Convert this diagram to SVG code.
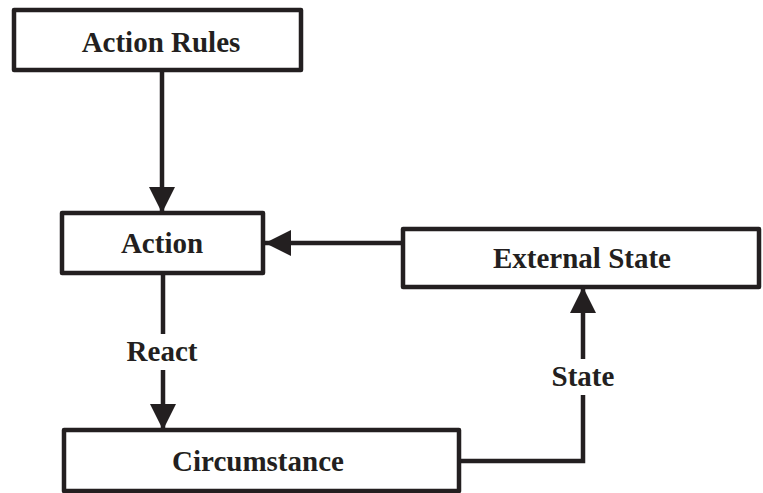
<svg xmlns="http://www.w3.org/2000/svg" width="763" height="493" viewBox="0 0 763 493">
  <style>
    .box { fill: #ffffff; stroke: #231f20; stroke-width: 4.5; stroke-linejoin: round; }
    .lbl { font-family: "Liberation Serif", "Times New Roman", serif; font-weight: bold; font-size: 29px; fill: #231f20; text-anchor: middle; }
    .wire { fill: none; stroke: #231f20; stroke-width: 4.5; }
    .bg { fill: #ffffff; }
  </style>
  <defs>
    <marker id="arrow" viewBox="0 0 26 26" refX="26" refY="13" markerWidth="26" markerHeight="26" markerUnits="userSpaceOnUse" orient="auto">
      <path d="M0,0 L26,13 L0,26 Z" fill="#231f20"/>
    </marker>
  </defs>
  <rect width="763" height="493" fill="#ffffff"/>

  <g id="connectors">
    <!-- Action Rules -> Action -->
    <line class="wire" x1="162" y1="70" x2="162" y2="213" marker-end="url(#arrow)"/>
    <!-- External State -> Action -->
    <line class="wire" x1="403" y1="243" x2="265" y2="243" marker-end="url(#arrow)"/>
    <!-- Action -> Circumstance (React) -->
    <line class="wire" x1="163" y1="273" x2="163" y2="430" marker-end="url(#arrow)"/>
    <!-- Circumstance -> External State (State) -->
    <polyline class="wire" points="459,461 583,461 583,287" marker-end="url(#arrow)"/>
    <rect class="bg" x="120" y="334" width="86" height="36"/>
    <rect class="bg" x="545" y="359" width="76" height="36"/>
    <text class="lbl" x="162" y="361">React</text>
    <text class="lbl" x="583" y="386">State</text>
  </g>

  <g id="action-rules">
    <rect class="box" x="14" y="10" width="287" height="60"/>
    <text class="lbl" x="161" y="52">Action Rules</text>
  </g>

  <g id="action">
    <rect class="box" x="62" y="213" width="201" height="60"/>
    <text class="lbl" x="162" y="253">Action</text>
  </g>

  <g id="external-state">
    <rect class="box" x="403" y="229" width="356" height="58"/>
    <text class="lbl" x="582" y="268">External State</text>
  </g>

  <g id="circumstance">
    <rect class="box" x="64" y="430" width="395" height="61"/>
    <text class="lbl" x="258" y="471">Circumstance</text>
  </g>
</svg>
